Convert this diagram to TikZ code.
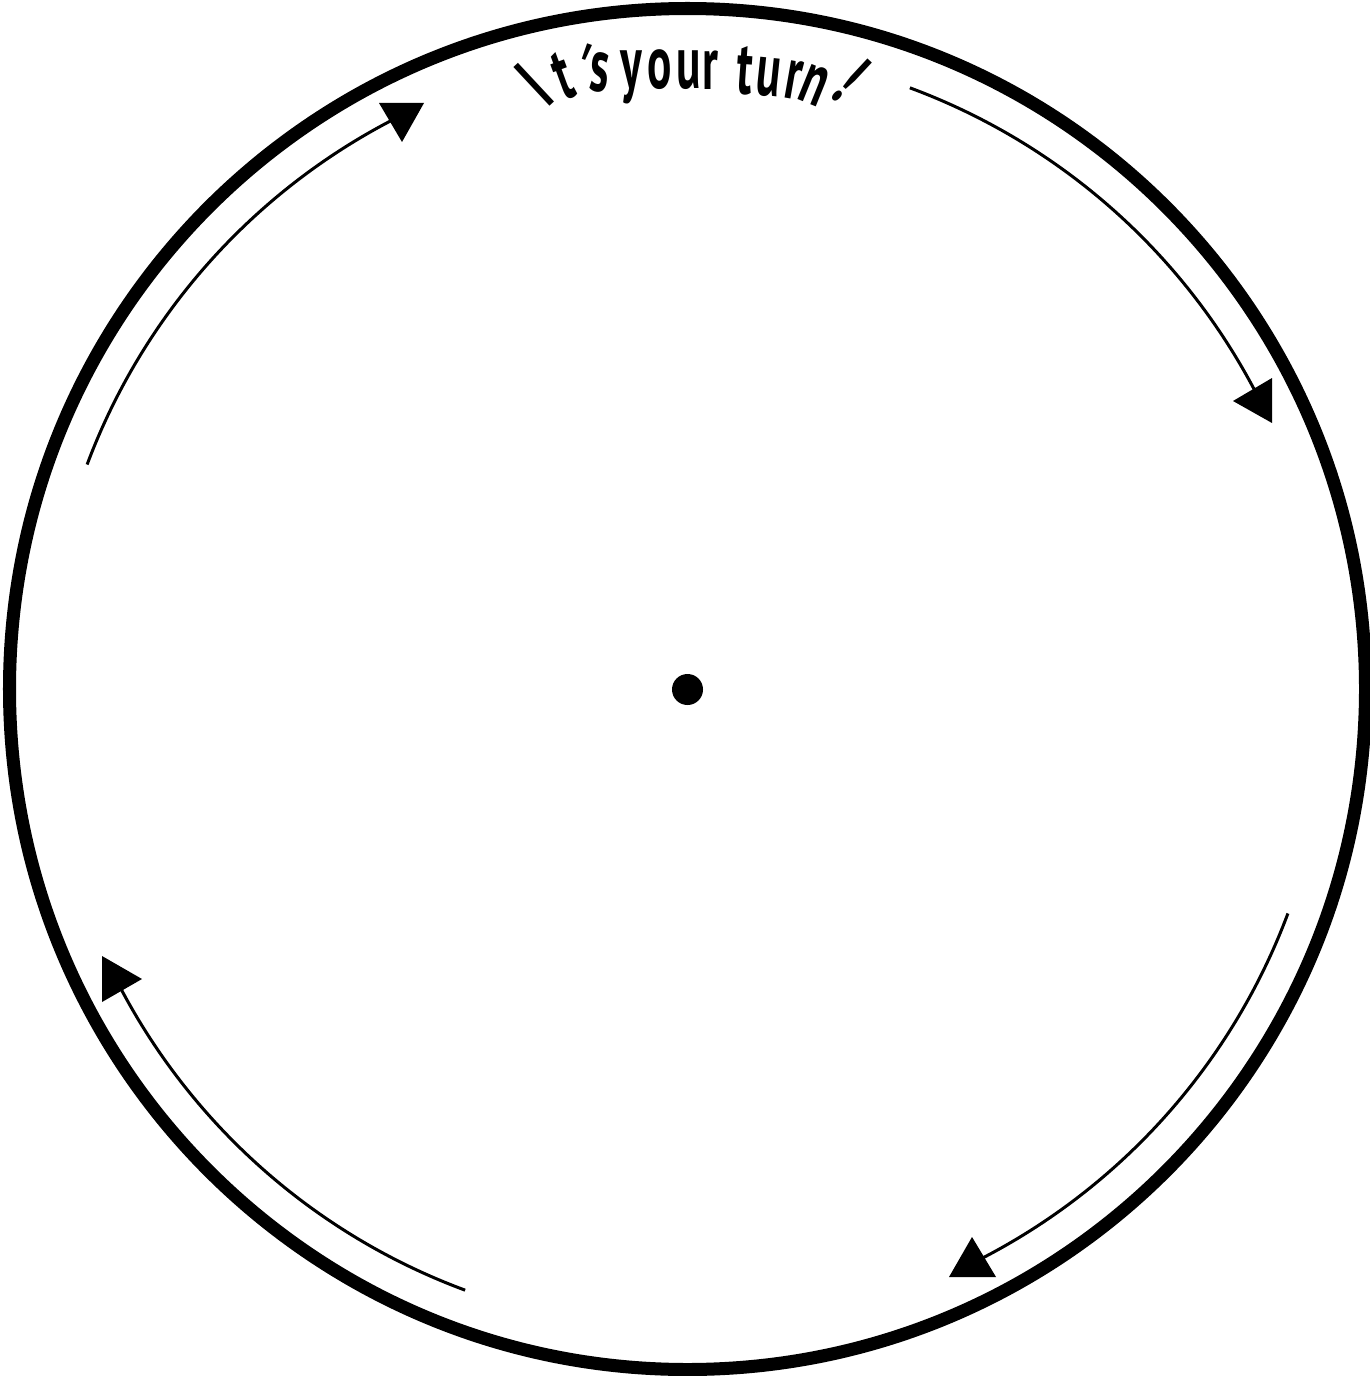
\documentclass[tikz,border=0pt]{standalone}
\usepackage{fontspec}
\newfontfamily\turnfont{PT Sans}
\newcommand\narrowglyph[1]{\scalebox{0.6}[1]{#1}}
\tikzset{
  rim/.style={line width=0.13cm, draw=black},
  arcline/.style={line width=0.03cm, draw=black},
  tiphead/.style={fill=black, draw=none},
  glyph/.style={inner sep=0pt, outer sep=0pt, anchor=base, font=\turnfont\bfseries\fontsize{21.5}{21.5}\selectfont}
}
\begin{document}
\begin{tikzpicture}[x=0.01cm, y=-0.01cm]
\useasboundingbox (0,0) rectangle (1370,1376);
\coordinate (c) at (687.5,689);
% rim
\draw[rim] (c) ellipse [x radius=678, y radius=680.5];
% centre dot
\fill (687.5,689.5) circle [radius=15.5];
% arcs
\draw[arcline] (c) ++(-159.5:641) arc [start angle=-159.5, end angle=-117, radius=641];
\draw[arcline] (c) ++(-69.7:641) arc [start angle=-69.7, end angle=-27, radius=641];
\draw[arcline] (c) ++(20.5:641) arc [start angle=20.5, end angle=63.6, radius=641];
\draw[arcline] (c) ++(110.3:641) arc [start angle=110.3, end angle=153.1, radius=641];
% arrowheads
\fill[tiphead] (379,103) -- (424,103) -- (402,142) -- cycle;
\fill[tiphead] (1233,401) -- (1272,378) -- (1272,423) -- cycle;
\fill[tiphead] (972,1237) -- (949,1277) -- (996,1277) -- cycle;
\fill[tiphead] (102,956) -- (102,1002) -- (142,979) -- cycle;
% title letters
\node[glyph, rotate=43] (l1) at (552,104) {\narrowglyph{I}};
\node[glyph, rotate=20] (l2) at (571,98) {\narrowglyph{t}};
\node[glyph, rotate=-19] (l3) at (572,94) {\narrowglyph{\textquotesingle}};
\node[glyph, rotate=-5] (l4) at (598,91) {\narrowglyph{s}};
\node[glyph] (l5) at (631,89) {\narrowglyph{y}};
\node[glyph] (l6) at (659.5,89) {\narrowglyph{o}};
\node[glyph] (l7) at (688.5,89) {\narrowglyph{u}};
\node[glyph] (l8) at (710,90) {\narrowglyph{r}};
\node[glyph, rotate=-4] (l9) at (743,94) {\narrowglyph{t}};
\node[glyph, rotate=-6] (l10) at (767,96) {\narrowglyph{u}};
\node[glyph, rotate=-10] (l11) at (790,99) {\narrowglyph{r}};
\node[glyph, rotate=-22] (l12) at (807,103) {\narrowglyph{n}};
\node[glyph, rotate=-43] (l13) at (833,99) {\narrowglyph{!}};
\end{tikzpicture}
\end{document}
